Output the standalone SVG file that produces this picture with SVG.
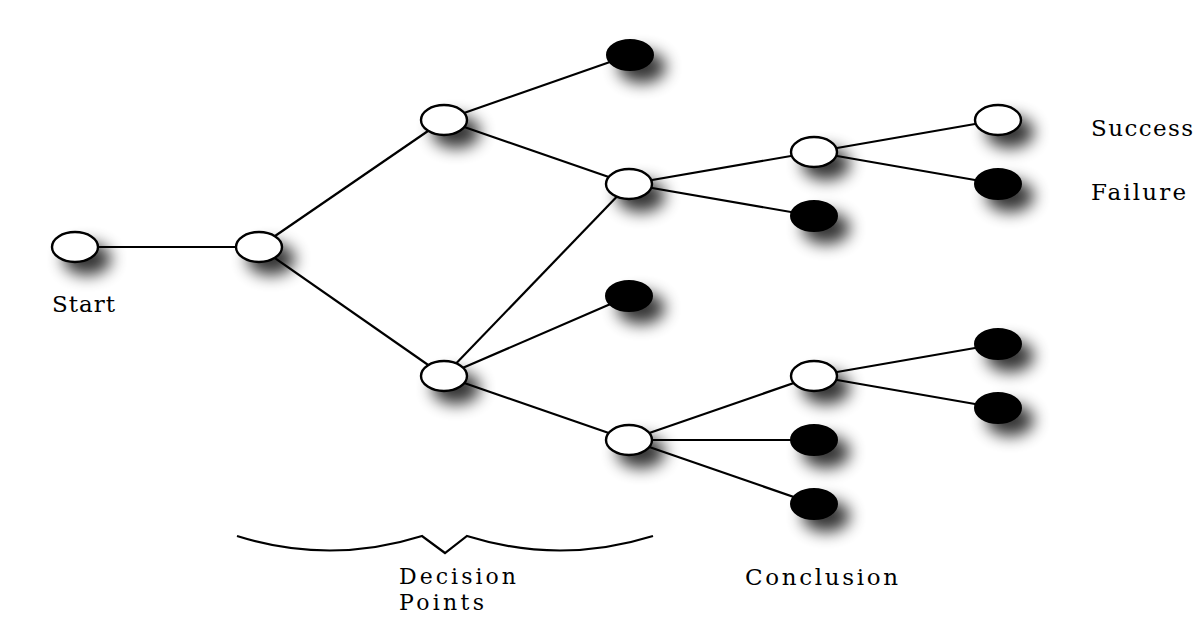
<svg xmlns="http://www.w3.org/2000/svg" width="1200" height="642" viewBox="0 0 1200 642">
<defs>
<filter id="sh" x="-60%" y="-60%" width="280%" height="300%">
<feGaussianBlur in="SourceAlpha" stdDeviation="8"/>
<feOffset dx="12" dy="12" result="b"/>
<feComponentTransfer><feFuncA type="linear" slope="0.8"/></feComponentTransfer>
<feMerge><feMergeNode/><feMergeNode in="SourceGraphic"/></feMerge>
</filter>
</defs>
<style>
.w{fill:#fff;stroke:#000;stroke-width:2.4}
.b{fill:#000;stroke:#000;stroke-width:2}
.e{stroke:#000;stroke-width:2.2;fill:none}
text{font-family:"DejaVu Serif","Liberation Serif",serif;font-size:23px;fill:#000}
.s{font-size:22px}
</style>
<rect width="1200" height="642" fill="#fff"/>
<g id="connectors" class="e">
<line x1="75" y1="247" x2="259" y2="247"/>
<line x1="259" y1="247" x2="444" y2="120"/>
<line x1="259" y1="247" x2="444" y2="376"/>
<line x1="444" y1="120" x2="630" y2="55"/>
<line x1="444" y1="120" x2="629" y2="184"/>
<line x1="629" y1="184" x2="814" y2="152"/>
<line x1="629" y1="184" x2="814" y2="216"/>
<line x1="814" y1="152" x2="998" y2="120"/>
<line x1="814" y1="152" x2="998" y2="184"/>
<line x1="444" y1="376" x2="629" y2="184"/>
<line x1="444" y1="376" x2="629" y2="296"/>
<line x1="444" y1="376" x2="629" y2="440"/>
<line x1="629" y1="440" x2="814" y2="376"/>
<line x1="629" y1="440" x2="814" y2="440"/>
<line x1="629" y1="440" x2="814" y2="504"/>
<line x1="814" y1="376" x2="998" y2="344"/>
<line x1="814" y1="376" x2="998" y2="408"/>
</g>
<g filter="url(#sh)">
<g id="start"><ellipse class="w" cx="75" cy="247" rx="23" ry="15"/></g>
<g id="n1"><ellipse class="w" cx="259" cy="247" rx="23" ry="15"/></g>
<g id="n2a"><ellipse class="w" cx="444" cy="120" rx="23" ry="15"/></g>
<g id="n2b"><ellipse class="w" cx="444" cy="376" rx="23" ry="15"/></g>
<g id="f1"><ellipse class="b" cx="630" cy="55" rx="23" ry="15"/></g>
<g id="n3a"><ellipse class="w" cx="629" cy="184" rx="23" ry="15"/></g>
<g id="f2"><ellipse class="b" cx="629" cy="296" rx="23" ry="15"/></g>
<g id="n3b"><ellipse class="w" cx="629" cy="440" rx="23" ry="15"/></g>
<g id="n4a"><ellipse class="w" cx="814" cy="152" rx="23" ry="15"/></g>
<g id="f3"><ellipse class="b" cx="814" cy="216" rx="23" ry="15"/></g>
<g id="n4b"><ellipse class="w" cx="814" cy="376" rx="23" ry="15"/></g>
<g id="f4"><ellipse class="b" cx="814" cy="440" rx="23" ry="15"/></g>
<g id="f5"><ellipse class="b" cx="814" cy="504" rx="23" ry="15"/></g>
<g id="success"><ellipse class="w" cx="998" cy="120" rx="23" ry="15"/></g>
<g id="failure"><ellipse class="b" cx="998" cy="184" rx="23" ry="15"/></g>
<g id="f6"><ellipse class="b" cx="998" cy="344" rx="23" ry="15"/></g>
<g id="f7"><ellipse class="b" cx="998" cy="408" rx="23" ry="15"/></g>
</g>
<g id="brace"><path class="e" d="M237,536 Q330,565 422,536 L445,553 L467,536 Q560,565 653,536"/></g>
<g id="labels">
<text x="52" y="312" textLength="63" lengthAdjust="spacing">Start</text>
<text x="1091" y="136" textLength="102" lengthAdjust="spacing">Success</text>
<text x="1091" y="200" textLength="95" lengthAdjust="spacing">Failure</text>
<text class="s" x="399" y="584" textLength="117" lengthAdjust="spacing">Decision</text>
<text class="s" x="399" y="610" textLength="85" lengthAdjust="spacing">Points</text>
<text x="745" y="585" textLength="153" lengthAdjust="spacing">Conclusion</text>
</g>
</svg>
